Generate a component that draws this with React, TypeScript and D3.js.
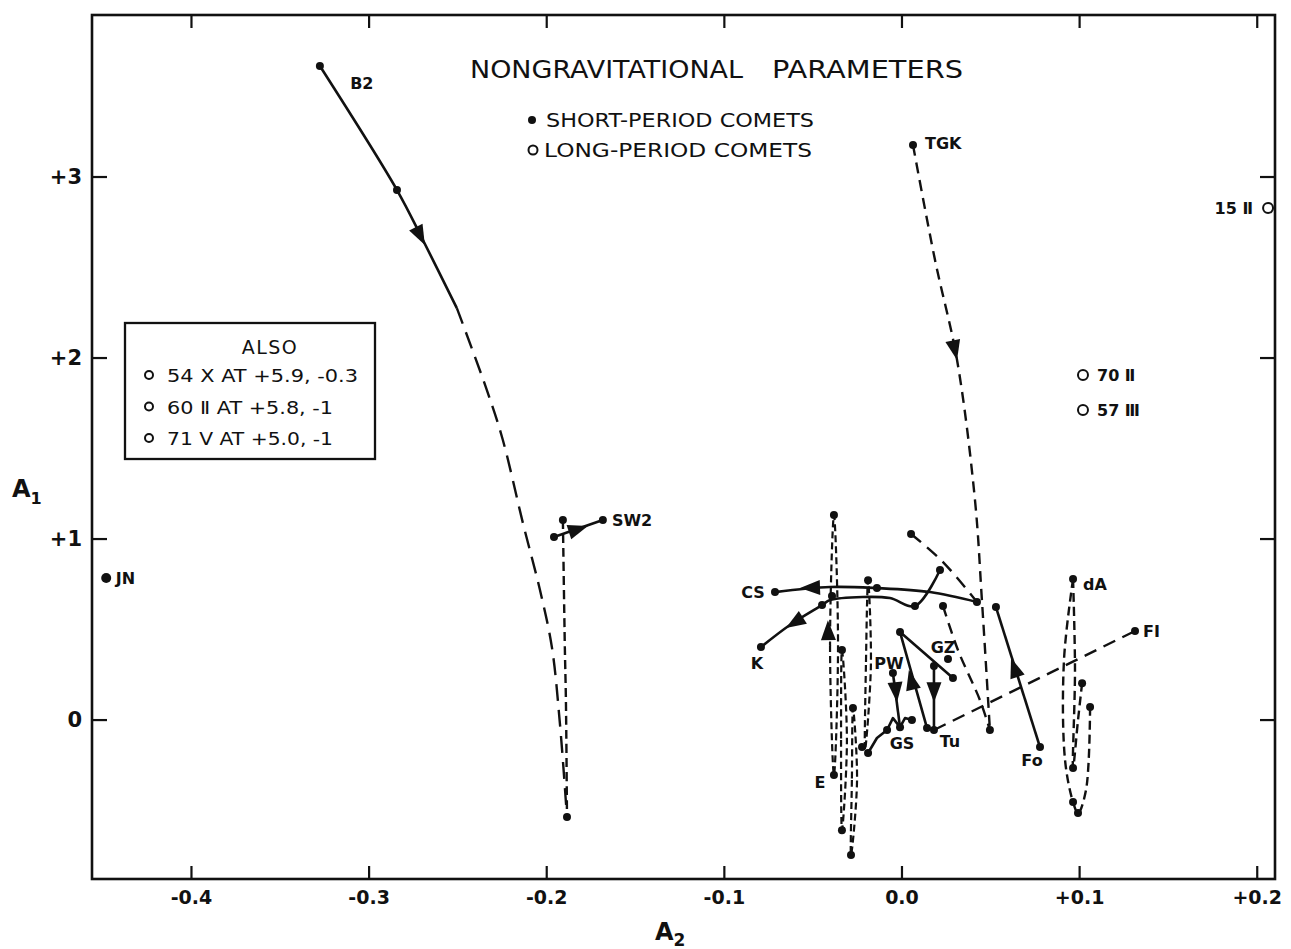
import { useEffect, useRef } from 'react';
import * as d3 from 'd3';

type Pt = [number, number];

// axis ticks
const X_TICKS = [-0.4, -0.3, -0.2, -0.1, 0, 0.1, 0.2];
const X_TICK_LABELS = ['-0.4', '-0.3', '-0.2', '-0.1', '0.0', '+0.1', '+0.2'];
const Y_TICKS = [0, 1, 2, 3];
const Y_TICK_LABELS = ['0', '+1', '+2', '+3'];

// comet tracks, [A2, A1]
const B2_SOLID: Pt[] = [[-0.3277, 3.613], [-0.2843, 2.928], [-0.2697, 2.652], [-0.2506, 2.276]];
const B2_DASHED: Pt[] = [[-0.2506, 2.276], [-0.2337, 1.823], [-0.2247, 1.547], [-0.2134, 1.088], [-0.2038, 0.718], [-0.1971, 0.403], [-0.1926, -0.017], [-0.1886, -0.536]];
const SW2_DASHED: Pt[] = [[-0.1909, 1.105], [-0.1898, 0.4], [-0.1892, 0.11], [-0.1886, -0.536]];
const SW2_SOLID: Pt[] = [[-0.1959, 1.011], [-0.1684, 1.105]];
const TGK_DASHED: Pt[] = [[0.0062, 3.177], [0.0186, 2.541], [0.031, 1.989], [0.0411, 1.215], [0.045, 0.663], [0.0495, -0.055]];
const MID_DASHED: Pt[] = [[0.0231, 0.63], [0.0315, 0.387], [0.0439, 0.11], [0.0495, -0.055]];
const CS_DASHED: Pt[] = [[0.0051, 1.028], [0.0231, 0.873], [0.0422, 0.652]];
const CS_SOLID: Pt[] = [[0.0422, 0.652], [0.0158, 0.707], [-0.0141, 0.729], [-0.0405, 0.735], [-0.0715, 0.707]];
const K_SOLID: Pt[] = [[0.0214, 0.829], [0.0073, 0.63], [-0.0068, 0.674], [-0.022, 0.68], [-0.0405, 0.663], [-0.045, 0.635], [-0.0631, 0.525], [-0.0794, 0.403]];
const E_LOOPS: Pt[][] = [
  [[-0.0383, 1.133], [-0.0405, 0.414], [-0.0383, -0.304], [-0.036, 0.414]],
  [[-0.0338, 0.387], [-0.0343, -0.11], [-0.0338, -0.608], [-0.031, -0.11]],
  [[-0.0276, 0.066], [-0.0282, -0.331], [-0.0287, -0.746], [-0.0253, -0.331]],
  [[-0.0191, 0.773], [-0.0203, 0.304], [-0.0208, -0.166], [-0.0175, 0.304]],
];
const GS_SOLID: Pt[] = [[-0.0191, -0.182], [-0.0141, -0.099], [-0.0084, -0.055], [-0.0051, 0.011], [-0.0011, -0.039], [0.0017, 0.011], [0.0056, 0]];
const PW_SOLID: Pt[] = [[-0.0051, 0.26], [-0.0011, -0.039]];
const GZ_SOLID: Pt[] = [[0.0141, -0.044], [-0.0011, 0.486], [0.0287, 0.232]];
const TU_SOLID: Pt[] = [[0.018, 0.298], [0.018, -0.055]];
const FI_DASHED: Pt[] = [[0.018, -0.055], [0.1312, 0.492]];
const FO_SOLID: Pt[] = [[0.0777, -0.149], [0.0529, 0.624]];
const DA_DASHED_1: Pt[] = [[0.0963, 0.779], [0.0912, 0.331], [0.0918, -0.221], [0.0963, -0.453], [0.0991, -0.514], [0.1036, -0.387], [0.1059, 0.072]];
const DA_DASHED_2: Pt[] = [[0.0963, 0.779], [0.0974, 0.276], [0.0963, -0.265], [0.0991, 0], [0.1014, 0.204]];

// short-period comet points
const SHORT_DOTS: Pt[] = [
  [-0.3277, 3.613], [-0.2843, 2.928], [-0.1886, -0.536],
  [-0.1909, 1.105], [-0.1959, 1.011], [-0.1684, 1.105],
  [0.0062, 3.177], [0.0495, -0.055], [0.0051, 1.028], [0.0422, 0.652], [0.0231, 0.63],
  [-0.0715, 0.707], [-0.0141, 0.729],
  [0.0214, 0.829], [0.0073, 0.63], [-0.045, 0.635], [-0.0794, 0.403],
  [-0.0383, 1.133], [-0.0383, -0.304], [-0.0394, 0.685], [-0.0338, 0.387], [-0.0338, -0.608],
  [-0.0276, 0.066], [-0.0287, -0.746], [-0.0191, 0.773], [-0.0191, -0.182], [-0.0225, -0.149],
  [-0.0084, -0.055], [-0.0011, -0.039], [0.0056, 0], [-0.0051, 0.26],
  [0.0141, -0.044], [-0.0011, 0.486], [0.0287, 0.232], [0.0259, 0.337],
  [0.018, 0.298], [0.018, -0.055], [0.1312, 0.492],
  [0.0529, 0.624], [0.0777, -0.149],
  [0.0963, 0.779], [0.1014, 0.204], [0.1059, 0.072], [0.0963, -0.265], [0.0963, -0.453], [0.0991, -0.514],
];
const JN_DOT: Pt = [-0.448, 0.785];

// long-period comets
const LONG_DOTS: Pt[] = [[0.2061, 2.829], [0.1019, 1.906], [0.1019, 1.713]];

// arrowheads: tip then a point behind it on the track
const ARROWS: [number, number, number, number][] = [
  [-0.2686, 2.624, -0.2843, 2.928],
  [0.031, 1.989, 0.0186, 2.541],
  [-0.1768, 1.072, -0.1959, 1.011],
  [-0.0574, 0.729, -0.0405, 0.735],
  [-0.0653, 0.508, -0.045, 0.635],
  [-0.0417, 0.552, -0.0411, 0.331],
  [-0.0028, 0.099, -0.0045, 0.265],
  [0.018, 0.099, 0.018, 0.28],
  [0.0039, 0.276, 0.0079, 0.11],
  [0.0614, 0.343, 0.0676, 0.166],
];

// comet names: text, A2, A1, anchor
const LABELS: [string, number, number, string][] = [
  ['B2', -0.3041, 3.519, 'middle'],
  ['JN', -0.4426, 0.785, 'start'],
  ['SW2', -0.1633, 1.105, 'start'],
  ['TGK', 0.013, 3.188, 'start'],
  ['CS', -0.0839, 0.707, 'middle'],
  ['K', -0.0816, 0.315, 'middle'],
  ['E', -0.0462, -0.343, 'middle'],
  ['PW', -0.0073, 0.315, 'middle'],
  ['GS', 0, -0.127, 'middle'],
  ['Tu', 0.027, -0.116, 'middle'],
  ['GZ', 0.0231, 0.403, 'middle'],
  ['Fo', 0.0732, -0.221, 'middle'],
  ['dA', 0.1019, 0.751, 'start'],
  ['FI', 0.1357, 0.492, 'start'],
  ['15 Ⅱ', 0.1976, 2.829, 'end'],
  ['70 Ⅱ', 0.1098, 1.906, 'start'],
  ['57 Ⅲ', 0.1098, 1.713, 'start'],
];

const TITLE_WORDS = ['NONGRAVITATIONAL', 'PARAMETERS'];
const KEY_LABELS = ['SHORT-PERIOD COMETS', 'LONG-PERIOD COMETS'];
const ALSO_ITEMS = ['54 X AT +5.9, -0.3', '60 Ⅱ AT +5.8, -1', '71 V AT +5.0, -1'];

const FONT = '"DejaVu Sans", "Liberation Sans", sans-serif';

export default function App() {
  const svgRef = useRef<SVGSVGElement>(null);

  useEffect(() => {
    if (!svgRef.current) return;
    const W = 1291;
    const H = 949;
    const svg = d3.select(svgRef.current);
    svg.selectAll('*').remove();
    svg.attr('width', W).attr('height', H);

    svg.append('rect').attr('width', W).attr('height', H).attr('fill', '#fff');

    const x = d3.scaleLinear().domain([-0.456, 0.21]).range([92, 1275]);
    const y = d3.scaleLinear().domain([-0.878, 3.895]).range([879, 15]);
    const [x0, x1] = x.range();
    const [y0, y1] = y.range();

    const g = svg.append('g');

    // Frame
    g.append('rect')
      .attr('x', x0).attr('y', y1)
      .attr('width', x1 - x0).attr('height', y0 - y1)
      .attr('fill', 'none').attr('stroke', '#111').attr('stroke-width', 2.6);

    // Ticks, all four sides pointing inward
    X_TICKS.forEach((t, i) => {
      g.append('line').attr('x1', x(t)).attr('x2', x(t)).attr('y1', y0).attr('y2', y0 - 13)
        .attr('stroke', '#111').attr('stroke-width', 2.2);
      g.append('line').attr('x1', x(t)).attr('x2', x(t)).attr('y1', y1).attr('y2', y1 + 13)
        .attr('stroke', '#111').attr('stroke-width', 2.2);
      g.append('text')
        .attr('x', x(t)).attr('y', y0 + 25)
        .attr('text-anchor', 'middle')
        .attr('font-family', FONT).attr('font-size', 19).attr('font-weight', 'bold')
        .attr('fill', '#111')
        .text(X_TICK_LABELS[i]);
    });
    Y_TICKS.forEach((t, i) => {
      g.append('line').attr('x1', x0).attr('x2', x0 + 15).attr('y1', y(t)).attr('y2', y(t))
        .attr('stroke', '#111').attr('stroke-width', 2.2);
      g.append('line').attr('x1', x1).attr('x2', x1 - 15).attr('y1', y(t)).attr('y2', y(t))
        .attr('stroke', '#111').attr('stroke-width', 2.2);
      g.append('text')
        .attr('x', x0 - 10).attr('y', y(t) + 7)
        .attr('text-anchor', 'end')
        .attr('font-family', FONT).attr('font-size', 21).attr('font-weight', 'bold')
        .attr('fill', '#111')
        .text(Y_TICK_LABELS[i]);
    });

    // Axis titles
    const a1 = g.append('text').attr('x', 12).attr('y', 497)
      .attr('font-family', FONT).attr('font-size', 24).attr('font-weight', 'bold').attr('fill', '#111');
    a1.append('tspan').text('A');
    a1.append('tspan').attr('font-size', 16).attr('dy', 7).text('1');
    const a2 = g.append('text').attr('x', 655).attr('y', 940)
      .attr('font-family', FONT).attr('font-size', 24).attr('font-weight', 'bold').attr('fill', '#111');
    a2.append('tspan').text('A');
    a2.append('tspan').attr('font-size', 17).attr('dy', 6).text('2');

    const smooth = d3.line<Pt>().x(d => x(d[0])).y(d => y(d[1])).curve(d3.curveCatmullRom.alpha(0.5));
    const straight = d3.line<Pt>().x(d => x(d[0])).y(d => y(d[1]));
    const loop = d3.line<Pt>().x(d => x(d[0])).y(d => y(d[1])).curve(d3.curveCatmullRomClosed.alpha(0.5));

    const solidTracks: [Pt[], boolean][] = [
      [B2_SOLID, true], [SW2_SOLID, false], [CS_SOLID, true], [K_SOLID, true],
      [GS_SOLID, false], [PW_SOLID, false], [GZ_SOLID, false], [TU_SOLID, false], [FO_SOLID, false],
    ];
    const dashedTracks: [Pt[], boolean, string][] = [
      [B2_DASHED, true, '17,9'], [SW2_DASHED, true, '9,5'], [TGK_DASHED, true, '11,7'],
      [MID_DASHED, true, '11,7'], [CS_DASHED, true, '13,8'], [FI_DASHED, false, '13,8'],
      [DA_DASHED_1, true, '9,5'], [DA_DASHED_2, true, '9,5'],
    ];

    solidTracks.forEach(([pts, isSmooth]) => {
      g.append('path')
        .attr('d', (isSmooth ? smooth : straight)(pts))
        .attr('fill', 'none').attr('stroke', '#111').attr('stroke-width', 2.6)
        .attr('stroke-linejoin', 'round');
    });
    dashedTracks.forEach(([pts, isSmooth, dash]) => {
      g.append('path')
        .attr('d', (isSmooth ? smooth : straight)(pts))
        .attr('fill', 'none').attr('stroke', '#111').attr('stroke-width', 2.4)
        .attr('stroke-dasharray', dash);
    });
    E_LOOPS.forEach(pts => {
      g.append('path')
        .attr('d', loop(pts))
        .attr('fill', 'none').attr('stroke', '#111').attr('stroke-width', 2.2)
        .attr('stroke-dasharray', '7,4');
    });

    // Arrowheads
    ARROWS.forEach(([tx, ty, bx, by]) => {
      const px = x(tx), py = y(ty);
      const ang = Math.atan2(py - y(by), px - x(bx));
      const len = 20, half = 7.5;
      const cx = Math.cos(ang), sy = Math.sin(ang);
      const bxp = px - len * cx, byp = py - len * sy;
      const pts = [
        [px, py],
        [bxp - half * sy, byp + half * cx],
        [bxp + half * sy, byp - half * cx],
      ];
      g.append('path').attr('d', `M${pts.map(p => p.join(',')).join('L')}Z`).attr('fill', '#111');
    });

    // Points
    g.selectAll('.sp').data(SHORT_DOTS).join('circle')
      .attr('cx', d => x(d[0])).attr('cy', d => y(d[1])).attr('r', 4).attr('fill', '#111');
    g.append('circle').attr('cx', x(JN_DOT[0])).attr('cy', y(JN_DOT[1])).attr('r', 5).attr('fill', '#111');
    g.selectAll('.lp').data(LONG_DOTS).join('circle')
      .attr('cx', d => x(d[0])).attr('cy', d => y(d[1])).attr('r', 5)
      .attr('fill', '#fff').attr('stroke', '#111').attr('stroke-width', 2);

    // Comet names
    LABELS.forEach(([txt, lx, ly, anchor]) => {
      g.append('text')
        .attr('x', x(lx)).attr('y', y(ly) + 6)
        .attr('text-anchor', anchor)
        .attr('font-family', FONT).attr('font-size', 16).attr('font-weight', 'bold')
        .attr('fill', '#111')
        .text(txt);
    });

    // Title and key
    const titleSpans: [number, number][] = [[470, 273], [772, 191]];
    TITLE_WORDS.forEach((w, i) => {
      g.append('text')
        .attr('x', titleSpans[i][0]).attr('y', 78)
        .attr('textLength', titleSpans[i][1]).attr('lengthAdjust', 'spacingAndGlyphs')
        .attr('font-family', FONT).attr('font-size', 25).attr('fill', '#111')
        .text(w);
    });
    g.append('circle').attr('cx', 532).attr('cy', 120).attr('r', 4).attr('fill', '#111');
    g.append('circle').attr('cx', 533).attr('cy', 150).attr('r', 4.5)
      .attr('fill', '#fff').attr('stroke', '#111').attr('stroke-width', 2);
    KEY_LABELS.forEach((txt, i) => {
      g.append('text')
        .attr('x', i === 0 ? 546 : 544).attr('y', 127 + i * 30)
        .attr('textLength', 268).attr('lengthAdjust', 'spacingAndGlyphs')
        .attr('font-family', FONT).attr('font-size', 19).attr('fill', '#111')
        .text(txt);
    });

    // "Also" box
    g.append('rect')
      .attr('x', 125).attr('y', 323).attr('width', 250).attr('height', 136)
      .attr('fill', '#fff').attr('stroke', '#111').attr('stroke-width', 2.3);
    g.append('text')
      .attr('x', 270).attr('y', 354).attr('text-anchor', 'middle')
      .attr('font-family', FONT).attr('font-size', 19).attr('letter-spacing', 1.5).attr('fill', '#111')
      .text('ALSO');
    const itemLengths = [191, 166, 166];
    ALSO_ITEMS.forEach((txt, i) => {
      const cy = 375 + i * 31.5;
      g.append('circle').attr('cx', 149).attr('cy', cy).attr('r', 4)
        .attr('fill', '#fff').attr('stroke', '#111').attr('stroke-width', 2);
      g.append('text')
        .attr('x', 167).attr('y', cy + 7)
        .attr('textLength', itemLengths[i]).attr('lengthAdjust', 'spacingAndGlyphs')
        .attr('font-family', FONT).attr('font-size', 18).attr('fill', '#111')
        .text(txt);
    });
  }, []);

  return (
    <svg
      ref={svgRef}
      width={1291}
      height={949}
      style={{ position: 'absolute', left: 0, top: 0, display: 'block' }}
    />
  );
}
